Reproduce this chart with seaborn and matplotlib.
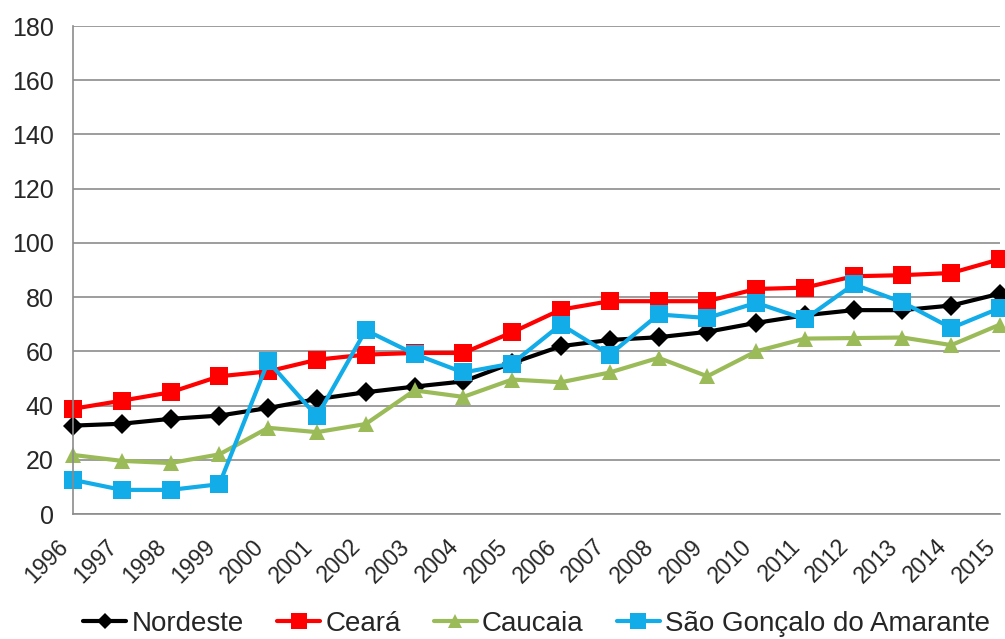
import numpy as np
import pandas as pd
import seaborn as sns
import matplotlib
matplotlib.use("Agg")
import matplotlib.pyplot as plt
from matplotlib.lines import Line2D

years = list(range(1996, 2016))
nordeste = [32.6, 33.3, 35.1, 36.3, 39.1, 42.4, 44.9, 47.0, 48.9, 55.7, 61.9, 64.2,
            65.2, 67.2, 70.5, 73.3, 75.2, 75.2, 76.9, 81.3]
ceara = [38.8, 41.8, 44.9, 50.8, 52.6, 56.9, 58.8, 59.4, 59.4, 67.0, 75.4, 78.5,
         78.5, 78.5, 83.0, 83.5, 87.7, 88.1, 88.9, 94.0]
caucaia = [21.8, 19.6, 18.8, 22.0, 31.8, 30.2, 33.2, 45.6, 43.2, 49.6, 48.6, 52.2,
           57.6, 50.8, 60.0, 64.7, 64.9, 65.1, 62.3, 69.9]
sao_goncalo = [12.6, 8.9, 8.9, 11.0, 56.3, 36.0, 67.8, 59.0, 52.2, 55.5, 69.9, 58.8,
               73.6, 72.3, 77.9, 71.9, 84.7, 78.1, 68.6, 76.0]

series = ["Nordeste", "Ceará", "Caucaia", "São Gonçalo do Amarante"]
colors = ["#000000", "#FF0000", "#9BBB59", "#12ACE8"]
markers = ["D", "s", "^", "s"]
msizes = [10, 13, 12, 13]

df = pd.DataFrame({
    "ano": years * 4,
    "valor": nordeste + ceara + caucaia + sao_goncalo,
    "serie": sum([[s] * len(years) for s in series], []),
})

sns.set_theme(style="white")
plt.rcParams["font.family"] = ["Liberation Sans", "DejaVu Sans"]

fig = plt.figure(figsize=(10.05, 6.39), dpi=100)
ax = fig.add_axes([0.0726, 0.1956, 0.9225, 0.7637])

for s, c, m, ms in zip(series, colors, markers, msizes):
    sub = df[df["serie"] == s]
    sns.lineplot(data=sub, x="ano", y="valor", ax=ax, color=c, marker=m,
                 markersize=ms, markeredgewidth=0, linewidth=3, clip_on=False,
                 legend=False)

ax.set_xlim(1996, 2015)
ax.set_ylim(0, 180)
ax.set_yticks(np.arange(0, 181, 20))
ax.set_xticks(years)
ax.set_xticklabels([str(y) for y in years], rotation=45, ha="right", va="top",
                   rotation_mode="default", fontsize=16.5)
ax.tick_params(axis="y", labelsize=18, length=0, pad=14)
ax.tick_params(axis="x", length=0, pad=15)
ax.set_xlabel("")
ax.set_ylabel("")
ax.yaxis.grid(True, color="#8c8c8c", linewidth=1.2)
ax.xaxis.grid(False)
for side in ["top", "right"]:
    ax.spines[side].set_visible(False)
for side in ["left", "bottom"]:
    ax.spines[side].set_color("#8c8c8c")
    ax.spines[side].set_linewidth(1.2)
ax.set_axisbelow(True)

handles = [Line2D([0], [0], color=c, marker=m, markersize=ms * 0.85, markeredgewidth=0,
                  linewidth=3) for c, m, ms in zip(colors, markers, msizes)]
fig.legend(handles, series, loc="lower center", bbox_to_anchor=(0.534, -0.036),
           ncol=4, frameon=False, handlelength=1.55, handletextpad=0.18,
           columnspacing=1.2, prop={"size": 20})

fig.savefig("out.png", dpi=100)
